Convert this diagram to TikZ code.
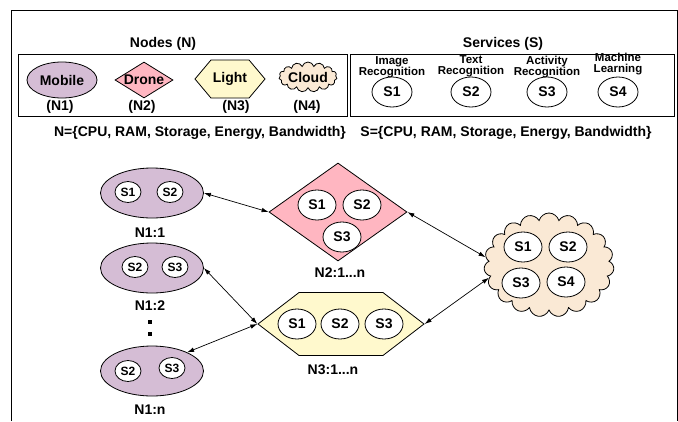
\documentclass[tikz,border=0pt]{standalone}
\usepackage{fontspec}
\setmainfont{Liberation Sans}
\usetikzlibrary{positioning, calc, shapes.geometric, shapes.symbols, arrows.meta}

\definecolor{mobilefill}{RGB}{213,189,213}
\definecolor{dronefill}{RGB}{255,182,193}
\definecolor{lightfill}{RGB}{255,249,205}
\definecolor{cloudfill}{RGB}{250,233,213}

\begin{document}
\begin{tikzpicture}[x=1pt, y=-1pt,
    every node/.style={font=\bfseries\fontsize{14}{16}\selectfont, inner sep=0pt},
    mobilenode/.style={ellipse, draw, line width=0.8pt, fill=mobilefill},
    dronenode/.style={diamond, draw, line width=0.8pt, fill=dronefill},
    lightnode/.style={signal, signal to=east and west, draw, line width=0.8pt, fill=lightfill},
    cloudnode/.style={cloud, cloud puffs=13, draw, line width=0.8pt, fill=cloudfill},
    svc/.style={ellipse, draw, line width=0.8pt, fill=white, minimum width=38, minimum height=30},
    svcsmall/.style={ellipse, draw, line width=0.8pt, fill=white, minimum width=26, minimum height=21, font=\bfseries\fontsize{12}{13}\selectfont},
    caption/.style={font=\bfseries\fontsize{11.5}{11}\selectfont, align=center},
    conn/.style={{Latex[length=7pt,width=4.5pt]}-{Latex[length=7pt,width=4.5pt]}, line width=0.7pt}]
    \useasboundingbox (0,0) rectangle (678,421);

    % outer frame, open at the bottom
    \draw[line width=1pt] (11,421) -- (11,10) -- (677,10) -- (677,421);

    % legend of node types
    \node (nodestitle) at (163,44) {Nodes (N)};
    \draw[line width=1pt] (18,54) rectangle (347,116);
    \node[mobilenode, minimum width=70, minimum height=36] (mob) at (62,80) {Mobile};
    \node[dronenode, minimum width=58, minimum height=36] (dro) at (144,80) {\makebox[0pt]{Drone}};
    \node[lightnode, signal pointer angle=100, minimum width=70, minimum height=38] (lig) at (230,79) {\makebox[0pt]{Light}};
    \node[cloudnode, minimum width=58, minimum height=30, cloud puffs=15] (clo) at (308,77) {\makebox[0pt]{Cloud}};
    \foreach \x/\t in {60/N1, 142/N2, 236/N3, 307/N4} {
        \node (leg\t) at (\x,107) {(\t)};
    }

    % legend of services
    \node (svctitle) at (503,44) {Services (S)};
    \draw[line width=1pt] (350,54) rectangle (674,116);
    \foreach \x/\y/\t/\c in {392/67/S1/Image\\Recognition, 471/66/S2/Text\\Recognition,
                             547/67/S3/Activity\\Recognition, 618/64/S4/Machine\\Learning} {
        \node[caption] (cap\t) at (\x,\y) {\c};
        \node[svc, minimum width=40] (leg\t) at (\x,92) {\t};
    }

    % resources
    \node (resn) at (200,133) {N=\{CPU, RAM, Storage, Energy, Bandwidth\}};
    \node (ress) at (506,133) {S=\{CPU, RAM, Storage, Energy, Bandwidth\}};

    % mobile nodes
    \node[mobilenode, minimum width=103, minimum height=50] (n11) at (152,193) {};
    \node[mobilenode, minimum width=103, minimum height=50] (n12) at (152,268) {};
    \node[mobilenode, minimum width=103, minimum height=50] (n1n) at (152,371) {};
    \foreach \n/\x/\y/\t in {a/128/192/S1, b/170/192/S2, c/135/267/S2, d/175/267/S3, e/128/371/S2, f/172/368/S3} {
        \node[svcsmall] (m\n) at (\x,\y) {\t};
    }
    \node (l11) at (150,233) {N1:1};
    \node (l12) at (150,306) {N1:2};
    \node (l1n) at (150,410) {N1:n};
    \fill (148,320) rectangle (152,324); % vertical dots
    \fill (148,332) rectangle (152,336);

    % drone, light and cloud nodes
    \node[dronenode, minimum width=138, minimum height=98] (n2) at (338,212) {};
    \node[lightnode, signal pointer angle=75, minimum width=166, minimum height=63] (n3) at (341,324) {};
    \node[cloudnode, minimum width=130, minimum height=104, cloud puffs=19] (n4) at (549,265) {};
    \foreach \n/\x/\y/\t in {d1/317/205/S1, d2/362/205/S2, d3/342/237/S3,
                             h1/297/324/S1, h2/340/324/S2, h3/384/324/S3,
                             c1/523/247/S1, c2/568/247/S2, c3/521/283/S3, c4/566/282/S4} {
        \node[svc] (\n) at (\x,\y) {\t};
    }
    \node (l2) at (340,273) {N2:1...n};
    \node (l3) at (333,370) {N3:1...n};

    % links
    \draw[conn] (n11.east) -- (n2.west);
    \draw[conn] (n12.east) -- (n3.west);
    \draw[conn] (n1n.28) -- (n3.west);
    \draw[conn] (n2.east) -- (n4.173);
    \draw[conn] (n3.east) -- (n4.192);
\end{tikzpicture}
\end{document}
